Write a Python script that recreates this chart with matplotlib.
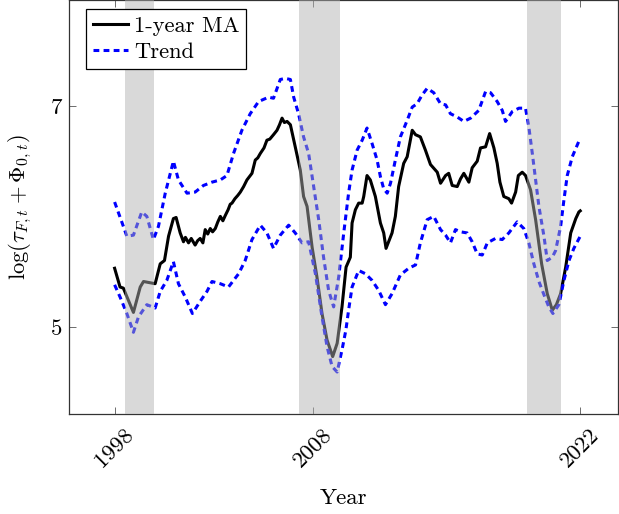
import matplotlib
matplotlib.use("Agg")
import matplotlib.pyplot as plt

plt.rcParams['font.family'] = 'serif'
plt.rcParams['font.serif'] = ['cmr10', 'DejaVu Serif']
plt.rcParams['mathtext.fontset'] = 'cm'
plt.rcParams['axes.formatter.use_mathtext'] = True

# 1-year moving average
ma_year = [1998.00, 1998.28, 1998.45, 1998.97, 1999.32, 1999.49, 2000.09, 2000.35, 2000.57, 2000.78,
           2001.03, 2001.17, 2001.38, 2001.55, 2001.65, 2001.81, 2001.95, 2002.15, 2002.28, 2002.41,
           2002.55, 2002.67, 2002.80, 2002.93, 2003.05, 2003.19, 2003.32, 2003.45, 2003.58, 2003.71,
           2003.85, 2003.96, 2004.05, 2004.20, 2004.35, 2004.48, 2004.65, 2004.82, 2005.08, 2005.25,
           2005.38, 2005.51, 2005.70, 2005.85, 2006.00, 2006.19, 2006.37, 2006.50, 2006.63, 2006.75,
           2006.89, 2007.06, 2007.31, 2007.57, 2007.74, 2007.92, 2008.18, 2008.43, 2008.69, 2008.95,
           2009.24, 2009.47, 2009.72, 2009.93, 2010.15, 2010.24, 2010.41, 2010.58, 2010.76, 2010.84,
           2011.01, 2011.18, 2011.44, 2011.70, 2011.87, 2011.99, 2012.30, 2012.47, 2012.64, 2012.90,
           2013.08, 2013.34, 2013.51, 2013.76, 2014.02, 2014.28, 2014.63, 2014.80, 2015.06, 2015.22,
           2015.40, 2015.66, 2015.83, 2016.00, 2016.26, 2016.43, 2016.69, 2016.86, 2017.12, 2017.33,
           2017.55, 2017.72, 2017.86, 2018.06, 2018.32, 2018.46, 2018.67, 2018.81, 2019.01, 2019.18,
           2019.44, 2019.70, 2020.01, 2020.30, 2020.56, 2020.77, 2020.99, 2021.25, 2021.51, 2021.77,
           2021.93, 2022.00]
ma_val = [5.53, 5.36, 5.35, 5.13, 5.36, 5.41, 5.39, 5.57, 5.60, 5.82,
          5.98, 5.99, 5.85, 5.77, 5.81, 5.76, 5.80, 5.74, 5.78, 5.80,
          5.76, 5.88, 5.84, 5.89, 5.86, 5.89, 5.95, 6.00, 5.96, 6.01,
          6.06, 6.11, 6.12, 6.16, 6.19, 6.22, 6.27, 6.33, 6.39, 6.51,
          6.53, 6.57, 6.62, 6.69, 6.70, 6.74, 6.78, 6.83, 6.89, 6.85,
          6.86, 6.83, 6.63, 6.42, 6.18, 6.09, 5.72, 5.45, 5.12, 4.88,
          4.73, 4.85, 5.18, 5.54, 5.63, 5.94, 6.06, 6.12, 6.12, 6.18,
          6.37, 6.33, 6.18, 5.94, 5.85, 5.71, 5.85, 6.00, 6.27, 6.48,
          6.54, 6.78, 6.74, 6.72, 6.60, 6.47, 6.40, 6.30, 6.37, 6.39,
          6.28, 6.27, 6.34, 6.39, 6.31, 6.44, 6.50, 6.62, 6.63, 6.75,
          6.62, 6.48, 6.31, 6.18, 6.16, 6.12, 6.22, 6.37, 6.40, 6.37,
          6.24, 5.97, 5.57, 5.30, 5.15, 5.20, 5.30, 5.54, 5.85, 5.98,
          6.04, 6.05]

# trend band, upper edge
up_year = [1998.00, 1998.45, 1998.63, 1998.97, 1999.40, 1999.66, 2000.00, 2000.26, 2000.61, 2001.03,
           2001.29, 2001.73, 2002.15, 2002.58, 2003.02, 2003.45, 2003.79, 2004.13, 2004.56, 2004.99,
           2005.42, 2005.94, 2006.19, 2006.54, 2006.80, 2007.06, 2007.23, 2007.48, 2007.74, 2008.00,
           2008.26, 2008.52, 2008.77, 2009.03, 2009.29, 2009.55, 2009.81, 2010.06, 2010.24, 2010.50,
           2010.76, 2011.01, 2011.27, 2011.53, 2011.70, 2011.87, 2012.05, 2012.22, 2012.47, 2012.73,
           2013.08, 2013.34, 2013.59, 2013.85, 2014.11, 2014.45, 2014.80, 2015.06, 2015.31, 2015.66,
           2016.00, 2016.35, 2016.77, 2017.12, 2017.38, 2017.72, 2017.98, 2018.15, 2018.50, 2018.84,
           2019.18, 2019.35, 2019.53, 2019.70, 2019.87, 2020.13, 2020.30, 2020.56, 2020.73, 2020.99,
           2021.16, 2021.33, 2021.59, 2022.00]
up_val = [6.13, 5.91, 5.82, 5.83, 6.04, 6.00, 5.79, 5.91, 6.21, 6.50,
          6.33, 6.21, 6.22, 6.28, 6.31, 6.33, 6.37, 6.57, 6.78, 6.93,
          7.04, 7.08, 7.07, 7.24, 7.25, 7.24, 7.08, 6.93, 6.72, 6.57,
          6.27, 5.97, 5.63, 5.33, 5.18, 5.45, 5.85, 6.21, 6.42, 6.60,
          6.69, 6.80, 6.66, 6.51, 6.36, 6.25, 6.21, 6.30, 6.51, 6.72,
          6.87, 6.99, 7.02, 7.10, 7.16, 7.12, 7.02, 7.01, 6.93, 6.90,
          6.86, 6.89, 6.96, 7.13, 7.12, 7.04, 6.96, 6.86, 6.95, 6.98,
          6.98, 6.81, 6.57, 6.33, 6.09, 5.82, 5.60, 5.63, 5.69, 5.91,
          6.15, 6.37, 6.54, 6.71]

# trend band, lower edge
lo_year = [1998.00, 1998.28, 1998.63, 1998.97, 1999.23, 1999.66, 2000.09, 2000.35, 2000.69, 2001.03,
           2001.29, 2001.64, 2002.01, 2002.41, 2002.76, 2003.02, 2003.45, 2003.87, 2004.39, 2004.73,
           2005.08, 2005.51, 2005.85, 2006.19, 2006.54, 2006.97, 2007.31, 2007.66, 2008.00, 2008.35,
           2008.69, 2008.95, 2009.21, 2009.47, 2009.72, 2009.92, 2010.06, 2010.24, 2010.58, 2010.93,
           2011.27, 2011.61, 2011.96, 2012.30, 2012.73, 2013.16, 2013.51, 2013.76, 2014.11, 2014.45,
           2014.80, 2015.06, 2015.31, 2015.57, 2015.83, 2016.17, 2016.43, 2016.69, 2016.95, 2017.21,
           2017.63, 2017.98, 2018.32, 2018.75, 2019.09, 2019.35, 2019.61, 2019.87, 2020.13, 2020.38,
           2020.59, 2020.90, 2021.16, 2021.42, 2021.67, 2022.00]
lo_val = [5.38, 5.27, 5.12, 4.95, 5.09, 5.20, 5.17, 5.32, 5.42, 5.59,
          5.39, 5.27, 5.12, 5.23, 5.32, 5.41, 5.39, 5.36, 5.48, 5.60,
          5.79, 5.92, 5.85, 5.71, 5.83, 5.92, 5.85, 5.76, 5.77, 5.48,
          5.09, 4.82, 4.64, 4.59, 4.79, 4.97, 5.15, 5.36, 5.51, 5.48,
          5.42, 5.33, 5.20, 5.30, 5.47, 5.53, 5.56, 5.76, 5.97, 6.00,
          5.88, 5.83, 5.76, 5.88, 5.86, 5.85, 5.77, 5.66, 5.65, 5.76,
          5.80, 5.79, 5.85, 5.95, 5.89, 5.76, 5.57, 5.41, 5.29, 5.18,
          5.12, 5.20, 5.42, 5.60, 5.71, 5.82]

# shaded periods (start, end)
rec_start = [1998.55, 2007.51, 2019.24]
rec_end = [2000.02, 2009.63, 2021.00]

tick_pos = [1998, 2008.2, 2022]
tick_lab = ['1998', '2008', '2022']

fig = plt.figure(figsize=(6.19, 5.14), dpi=100)
ax = fig.add_axes([0.1115, 0.1946, 0.887, 0.8054])

ax.plot(ma_year, ma_val, color='black', lw=2.2, label='1-year MA', zorder=2)
ax.plot(up_year, up_val, color='blue', lw=2.2, ls=(0, (1.9, 1.4)), label='Trend', zorder=2)
ax.plot(lo_year, lo_val, color='blue', lw=2.2, ls=(0, (1.9, 1.4)), zorder=2)

for s, e in zip(rec_start, rec_end):
    ax.axvspan(s, e, color=(0.69, 0.69, 0.69), alpha=0.48, lw=0, zorder=3)

ax.set_xlim(1995.65, 2023.95)
ax.set_ylim(4.21, 7.96)
ax.set_xticks(tick_pos)
ax.set_xticklabels(tick_lab, rotation=45, fontsize=16.5)
ax.set_yticks([5, 7])
ax.set_yticklabels(['5', '7'], fontsize=16.5)
ax.tick_params(direction='in', top=True, right=True, length=5, width=0.6, color='#555555')
ax.tick_params(axis='x', pad=8)
ax.tick_params(axis='y', pad=5)
for sp in ax.spines.values():
    sp.set_linewidth(0.9)
    sp.set_color('#333333')

ax.set_xlabel('Year', fontsize=16.5, labelpad=12)
ax.set_ylabel(r'$\log(\tau_{F,t} + \Phi_{0,t})$', fontsize=16.3, labelpad=12)

leg = ax.legend(loc='upper left', fontsize=16.2, fancybox=False, framealpha=1,
                edgecolor='black', handlelength=1.55, borderpad=0.3, labelspacing=0.3,
                handletextpad=0.28, borderaxespad=0, bbox_to_anchor=(0.031, 0.978))
leg.get_frame().set_linewidth(0.9)

fig.savefig('out.png', dpi=100)
